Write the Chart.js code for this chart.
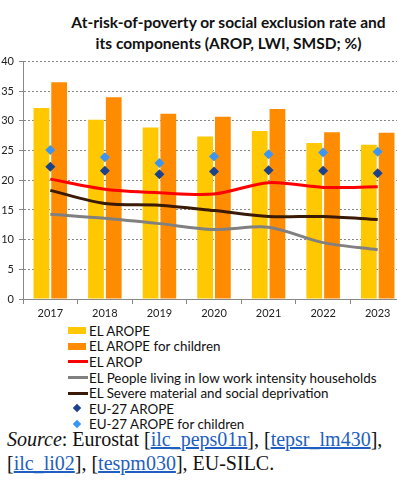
<!DOCTYPE html>
<html>
<head>
<meta charset="utf-8">
<script src="https://cdn.jsdelivr.net/npm/chart.js@4"></script>
<style>
  body { margin: 0; width: 397px; height: 487px; overflow: hidden; position: relative; background: #fff; }
  #title { position: absolute; left: 60px; width: 337px; top: 12px; text-align: center;
    font: bold 15.5px Lato, sans-serif; line-height: 21px; color: #111; white-space: nowrap; }
  #wrap { position: absolute; left: 0; top: 50px; }
  #legend { position: absolute; left: 68px; top: 323px; font: 13.4px Lato, sans-serif; color: #111; }
  #legend .row { height: 15.6px; display: flex; align-items: center; white-space: nowrap; }
  #legend .sw { width: 20px; height: 15px; position: relative; margin-right: 1px; }
  #source { position: absolute; left: 7px; top: 427px; font: 20px "Liberation Serif", serif; line-height: 24px; color: #111; white-space: nowrap; }
  #source a { color: #1f5fbf; }
</style>
</head>
<body>
<div id="title">At-risk-of-poverty or social exclusion rate and<br>its components (AROP, LWI, SMSD; %)</div>
<div id="wrap"><canvas id="chart" width="410" height="272"></canvas></div>
<div id="legend"></div>
<div id="source"><i>Source</i>: Eurostat [<a href="#">ilc_peps01n</a>], [<a href="#">tepsr_lm430</a>],<br>[<a href="#">ilc_li02</a>], [<a href="#">tespm030</a>], EU-SILC.</div>
<script>
// Categories and series values
const years = ['2017', '2018', '2019', '2020', '2021', '2022', '2023'];
const elArope = [32.2, 30.2, 28.9, 27.4, 28.3, 26.3, 26.0];
const elAropeChildren = [36.5, 34.0, 31.2, 30.7, 32.0, 28.1, 28.0];
const elArop = [20.2, 18.5, 17.9, 17.7, 19.6, 18.8, 18.9];
const elLowWork = [14.3, 13.6, 12.7, 11.7, 12.1, 9.5, 8.3];
const elDeprivation = [18.3, 16.1, 15.8, 14.9, 13.9, 13.9, 13.4];
const euArope = [22.3, 21.6, 21.0, 21.5, 21.7, 21.6, 21.2];
const euAropeChildren = [25.1, 23.9, 22.9, 24.0, 24.4, 24.7, 24.8];
const yTicks = [0, 5, 10, 15, 20, 25, 30, 35, 40];

const datasets = [
  { type: 'bar', label: 'EL AROPE', data: elArope, backgroundColor: '#FFC800', order: 3 },
  { type: 'bar', label: 'EL AROPE for children', data: elAropeChildren, backgroundColor: '#FF8C00', order: 3 },
  { type: 'line', label: 'EL AROP', data: elArop, borderColor: '#FF0000', order: 2 },
  { type: 'line', label: 'EL People living in low work intensity households', data: elLowWork, borderColor: '#808080', order: 2 },
  { type: 'line', label: 'EL Severe material and social deprivation', data: elDeprivation, borderColor: '#3A1A05', order: 2 },
  { type: 'line', label: 'EU-27 AROPE', data: euArope, diamond: true, backgroundColor: '#1B428C', order: 1 },
  { type: 'line', label: 'EU-27 AROPE for children', data: euAropeChildren, diamond: true, backgroundColor: '#3A96F2', order: 0 }
];

datasets.forEach(ds => {
  if (ds.type === 'bar') {
    ds.categoryPercentage = 0.65;
    ds.barPercentage = 0.89;
  } else if (ds.diamond) {
    ds.showLine = false;
    ds.pointStyle = 'rectRot';
    ds.pointRadius = 5;
    ds.borderWidth = 0;
    ds.borderColor = ds.backgroundColor;
  } else {
    ds.borderWidth = 3;
    ds.pointRadius = 0;
    ds.tension = 0.3;
    ds.fill = false;
  }
});

new Chart(document.getElementById('chart'), {
  type: 'bar',
  data: { labels: years, datasets: datasets },
  options: {
    responsive: false,
    animation: false,
    devicePixelRatio: 1,
    layout: { padding: { top: 7, left: 0, right: 0, bottom: 0 } },
    plugins: { legend: { display: false }, tooltip: { enabled: false } },
    scales: {
      x: {
        afterFit: s => { s.height = 23; },
        grid: { display: true, drawOnChartArea: false, drawTicks: true, tickLength: 5, offset: true, color: '#888' },
        border: { color: '#888' },
        ticks: { color: '#222', padding: 3, font: { family: 'Lato', size: 11 } }
      },
      y: {
        min: 0, max: 40,
        afterFit: s => { s.width = 23; },
        afterBuildTicks: s => { s.ticks = yTicks.map(v => ({ value: v })); },
        grid: { color: '#888', tickLength: 4 },
        border: { color: '#888', dash: [2, 2] },
        ticks: { color: '#222', padding: 5, font: { family: 'Lato', size: 11 } }
      }
    }
  }
});

// Legend as a vertical list under the chart
const legend = document.getElementById('legend');
legend.innerHTML = datasets.map(ds => {
  let mark;
  if (ds.type === 'bar') {
    mark = `<div style="position:absolute;left:0;top:4px;width:18px;height:7px;background:${ds.backgroundColor}"></div>`;
  } else if (ds.diamond) {
    mark = `<div style="position:absolute;left:6px;top:4px;width:6px;height:6px;transform:rotate(45deg);background:${ds.backgroundColor}"></div>`;
  } else {
    mark = `<div style="position:absolute;left:0;top:6px;width:20px;height:3px;background:${ds.borderColor}"></div>`;
  }
  return `<div class="row"><div class="sw">${mark}</div><span>${ds.label}</span></div>`;
}).join('');
</script>
</body>
</html>
